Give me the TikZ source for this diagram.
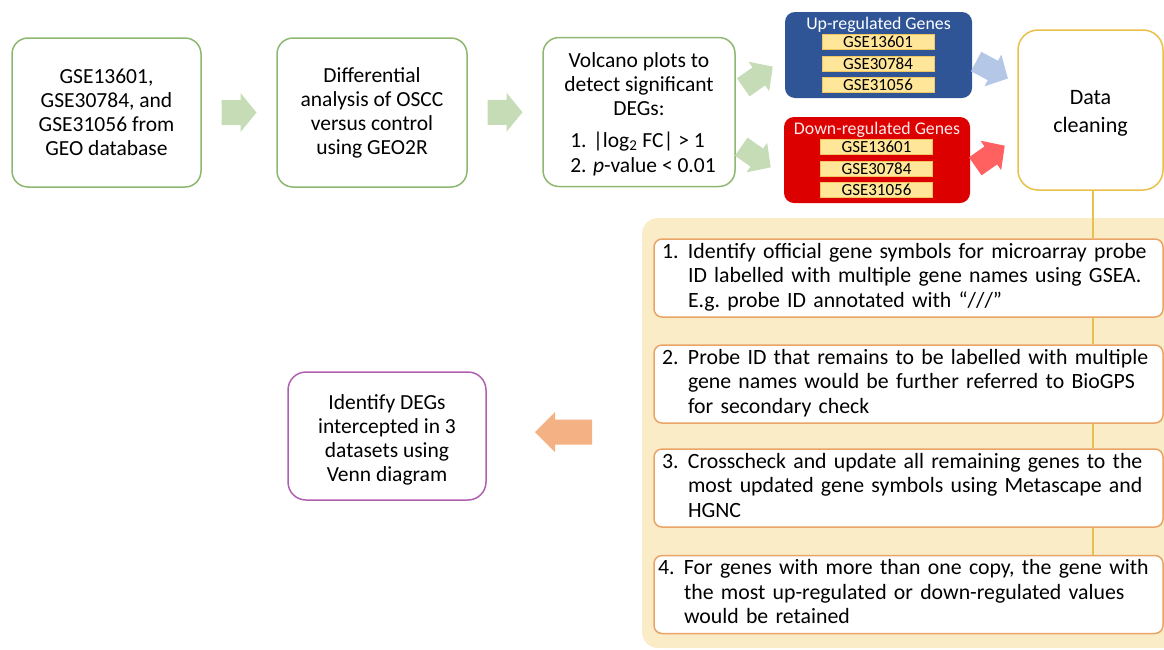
\documentclass[tikz,border=0pt]{standalone}
\usepackage{fontspec}
\setmainfont{Carlito}
\usetikzlibrary{calc}
\definecolor{gborder}{HTML}{8DB870}
\definecolor{garrow}{HTML}{C5DCB6}
\definecolor{upblue}{HTML}{2F5597}
\definecolor{downred}{HTML}{DD0000}
\definecolor{barfill}{HTML}{FFE699}
\definecolor{bardraw}{HTML}{F2C660}
\definecolor{dcborder}{HTML}{E9C04A}
\definecolor{panelfill}{HTML}{FBECC8}
\definecolor{stepborder}{HTML}{E9A466}
\definecolor{barrowc}{HTML}{B4C7E7}
\definecolor{rarrowc}{HTML}{FF6161}
\definecolor{oarrowc}{HTML}{F4B183}
\definecolor{vennborder}{HTML}{B060B0}
\newcommand\mainfs{\fontsize{21.5}{24}\selectfont}
\newcommand\dcfs{\fontsize{22}{28}\selectfont}
\newcommand\stepfs{\fontsize{21.8}{24.5}\selectfont}
\newcommand\smallfs{\fontsize{17}{17}\selectfont}
\newcommand\titlefs{\fontsize{17.8}{18}\selectfont}
% block arrow: colour, centre, angle, length, head width, shaft width, head length
\newcommand\blockarrow[7]{%
  \fill[#1, shift={#2}, rotate=#3]
    ({-#4/2},{-#6/2}) -- ({#4/2-#7},{-#6/2}) -- ({#4/2-#7},{-#5/2}) -- ({#4/2},0)
    -- ({#4/2-#7},{#5/2}) -- ({#4/2-#7},{#6/2}) -- ({-#4/2},{#6/2}) -- cycle;}
\newcommand\steptext[3][26pt]{\makebox[#1][l]{#2}\begin{tabular}[t]{@{}l@{}}#3\end{tabular}}
\tikzset{
  greenbox/.style={draw=gborder, line width=1.5pt, rounded corners=16pt, fill=white,
    align=center, font=\mainfs, inner sep=0pt},
  regbox/.style={rounded corners=10pt, inner sep=0pt, minimum width=187pt, minimum height=86pt},
  barbox/.style={fill=barfill, draw=bardraw, line width=0.6pt, inner sep=0pt,
    minimum width=112pt, minimum height=15pt, font=\smallfs},
  dcbox/.style={draw=dcborder, line width=1.5pt, rounded corners=20pt, fill=white,
    align=center, font=\dcfs, inner sep=0pt, minimum width=145pt, minimum height=160pt},
  stepbox/.style={draw=stepborder, line width=1.5pt, rounded corners=8pt, fill=white,
    font=\stepfs, inner xsep=8pt, inner ysep=0pt, text width=493pt, align=left,
    minimum height=78pt},
  vennbox/.style={draw=vennborder, line width=1.5pt, rounded corners=18pt, fill=white,
    align=center, font=\mainfs, inner sep=0pt, minimum width=198pt, minimum height=128pt},
  reglabel/.style={text=white, font=\titlefs, anchor=north, inner sep=0pt, yshift=-5pt},
  vline/.style={dcborder, line width=1.5pt},
}
\begin{document}
\begin{tikzpicture}[x=1pt,y=-1pt]
\useasboundingbox (0,0) rectangle (1164,649);
% top row
\node[greenbox, minimum width=189pt, minimum height=149pt] (b1) at (106.5,112.5)
  {GSE13601,\\GSE30784, and\\GSE31056 from\\GEO database};
\node[greenbox, minimum width=190pt, minimum height=149pt] (b2) at (372,112.5)
  {Differential\\analysis of OSCC\\versus control\\using GEO2R};
\node[greenbox, minimum width=192pt, minimum height=149pt] (b3) at (639,112)
  {\rule{0pt}{23pt}Volcano plots to\\detect significant\\DEGs:\\[8pt]
   \hspace*{8pt}\begin{tabular}[t]{@{}l@{}}1. |log\textsubscript{2} FC| > 1\\[1pt] 2. \textit{p}-value < 0.01\end{tabular}};
\coordinate (a1) at ($(b1.east)!0.5!(b2.west)$);
\coordinate (a2) at ($(b2.east)!0.5!(b3.west)$);
\blockarrow{garrow}{(a1)}{0}{35}{39}{25}{16}
\blockarrow{garrow}{(a2)}{0}{35}{39}{25}{16}
% regulated gene boxes
\node[regbox, fill=upblue, label={[reglabel]north:Up-regulated Genes}] (up) at (878.5,55) {};
\node[barbox] (up1) at (878,42) {GSE13601};
\node[barbox] (up2) at (878,63.5) {GSE30784};
\node[barbox] (up3) at (878,84.5) {GSE31056};
\node[regbox, fill=downred, minimum width=186pt, label={[reglabel, text=red!8!white]north:Down-regulated Genes}] (dn) at (877,160) {};
\node[barbox] (dn1) at (876.5,147) {GSE13601};
\node[barbox] (dn2) at (876.5,168.5) {GSE30784};
\node[barbox] (dn3) at (876.5,190) {GSE31056};
\blockarrow{garrow}{(758,77)}{35}{36}{36}{22}{17}
\blockarrow{garrow}{(756,157)}{-35}{36}{36}{22}{17}
% data cleaning
\node[dcbox] (dc) at (1090.5,110) {\rule{0pt}{20pt}Data\\cleaning};
\blockarrow{barrowc}{(992,70)}{-28}{36}{36}{22}{17}
\blockarrow{rarrowc}{(990,156)}{35}{36}{36}{22}{17}
% panel
\fill[panelfill, rounded corners=16pt] (642,218) rectangle (1190,648);
\node[stepbox] (s1) at (908.5,278) {\steptext{1.}{Identify official gene symbols for microarray probe\\ID labelled with multiple gene names using GSEA.\\E.g.\ probe ID annotated with “///”}};
\node[stepbox] (s2) at (908.5,384) {\steptext{2.}{Probe ID that remains to be labelled with multiple\\gene names would be further referred to BioGPS\\for secondary check}};
\node[stepbox] (s3) at (908.5,488) {\steptext{3.}{Crosscheck and update all remaining genes to the\\most updated gene symbols using Metascape and\\HGNC}};
\node[stepbox] (s4) at (908.5,594.5) {\hspace*{-4pt}\steptext[26pt]{4.}{For genes with more than one copy, the gene with\\the most up-regulated or down-regulated values\\would be retained}};
\draw[vline] ([xshift=2.5pt]dc.south) -- ([xshift=2.5pt]dc.south |- s1.north);
\draw[vline] ([xshift=2.5pt]dc.south |- s1.south) -- ([xshift=2.5pt]dc.south |- s2.north);
\draw[vline] ([xshift=2.5pt]dc.south |- s2.south) -- ([xshift=2.5pt]dc.south |- s3.north);
\draw[vline] ([xshift=2.5pt]dc.south |- s3.south) -- ([xshift=2.5pt]dc.south |- s4.north);
% venn
\node[vennbox] (venn) at (387,436) {\rule{0pt}{22pt}Identify DEGs\\intercepted in 3\\datasets using\\Venn diagram};
\blockarrow{oarrowc}{(563.5,432)}{180}{57}{40}{25}{20}
\end{tikzpicture}
\end{document}
